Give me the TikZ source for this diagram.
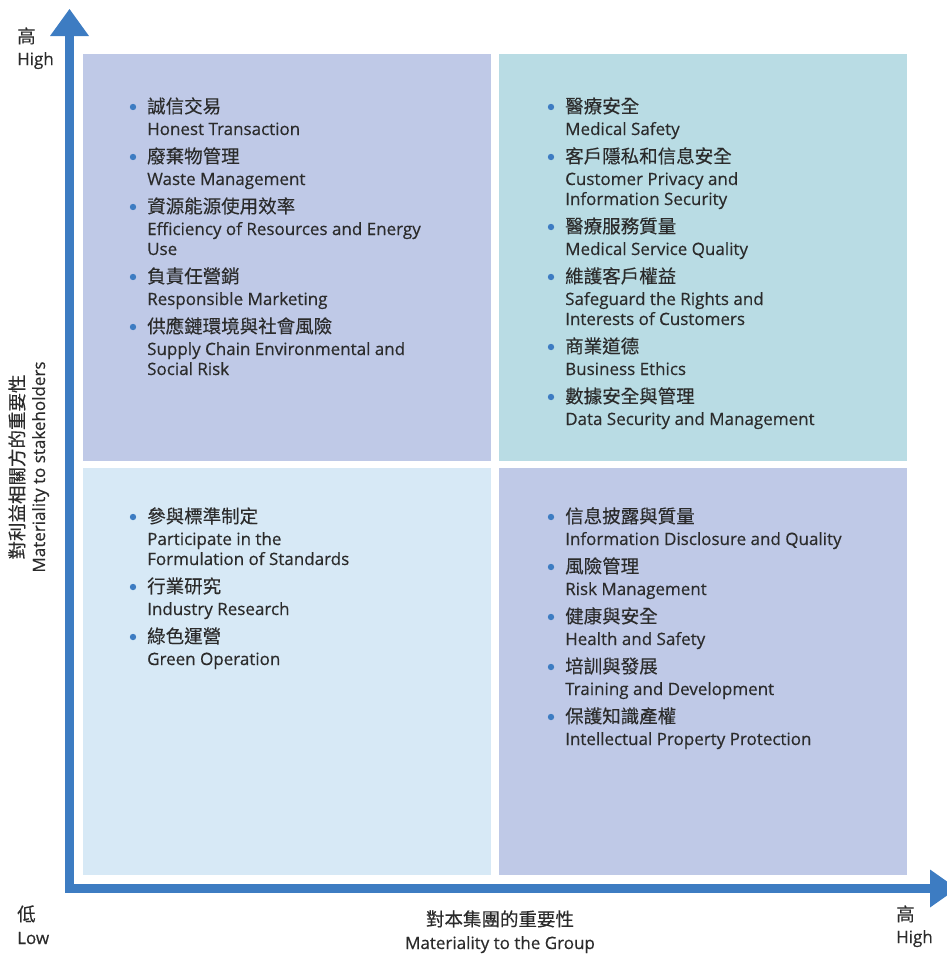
\documentclass[tikz,border=0pt]{standalone}
\usepackage{fontspec}
\setmainfont{Open Sans}[FakeBold=0.4]
\newfontfamily\cjk{Noto Sans CJK TC}[FakeBold=0.2]
\definecolor{axisc}{HTML}{3D7CC2}
\definecolor{quadA}{HTML}{BFC9E7}
\definecolor{quadB}{HTML}{B9DCE4}
\definecolor{quadC}{HTML}{D7E9F6}
\definecolor{txt}{HTML}{2B2B2B}
\tikzset{
  cn/.style={anchor=base west, inner sep=0pt, text=txt, font=\cjk\fontsize{18.5}{20}\selectfont},
  en/.style={anchor=base west, inner sep=0pt, text=txt, font=\fontsize{17}{20}\selectfont},
  dot/.style={fill=axisc},
}
\newcommand\itemA[5]{%
  \fill[dot] (#2-14,#3-6) circle (3.2);
  \node[cn] (#1c) at (#2,#3) {#4};
  \node[en] (#1e) at (#2,#3+22) {#5};
}
\newcommand\itemB[6]{%
  \itemA{#1}{#2}{#3}{#4}{#5}
  \node[en] (#1f) at (#2,#3+42) {#6};
}
\begin{document}
\begin{tikzpicture}[x=1pt,y=-1pt]
\useasboundingbox (0,0) rectangle (947,954);
\clip (0,0) rectangle (947,954);
% quadrants
\fill[quadA] (83,54) rectangle (491,461);
\fill[quadB] (499,54) rectangle (907,461);
\fill[quadC] (83,468) rectangle (491,875);
\fill[quadA] (499,468) rectangle (907,875);
% axes
\coordinate (ytop) at (69.5,36);
\coordinate (orig) at (69.5,888.5);
\coordinate (xend) at (930,888.5);
\draw[axisc, line width=9pt, line join=miter] (ytop) -- (orig) -- (xend);
\fill[axisc] (50,36) -- (89,36) -- (69.5,9) -- cycle;
\fill[axisc] (930,869.5) -- (930,907.5) -- (957,888.5) -- cycle;
% axis labels
\node[cn] (yhighc) at (17,43) {高};
\node[en] (yhighe) at (17,65) {High};
\node[cn] (lowc) at (17,921) {低};
\node[en] (lowe) at (17,944) {Low};
\node[cn] (xhighc) at (896,921) {高};
\node[en] (xhighe) at (896,943) {High};
\node[cn, anchor=base] (xlabc) at (500,926) {對本集團的重要性};
\node[en, anchor=base] (xlabe) at (500,949) {Materiality to the Group};
\node[cn, anchor=base, rotate=90] (ylabc) at (24,467) {對利益相關方的重要性};
\node[en, anchor=base, rotate=90] (ylabe) at (45,467) {Materiality to stakeholders};
% top-left
\itemA{a1}{147}{113}{誠信交易}{Honest Transaction}
\itemA{a2}{147}{163}{廢棄物管理}{Waste Management}
\itemB{a3}{147}{213}{資源能源使用效率}{Efficiency of Resources and Energy}{Use}
\itemA{a4}{147}{283}{負責任營銷}{Responsible Marketing}
\itemB{a5}{147}{333}{供應鏈環境與社會風險}{Supply Chain Environmental and}{Social Risk}
% top-right
\itemA{b1}{565}{113}{醫療安全}{Medical Safety}
\itemB{b2}{565}{163}{客戶隱私和信息安全}{Customer Privacy and}{Information Security}
\itemA{b3}{565}{233}{醫療服務質量}{Medical Service Quality}
\itemB{b4}{565}{283}{維護客戶權益}{Safeguard the Rights and}{Interests of Customers}
\itemA{b5}{565}{353}{商業道德}{Business Ethics}
\itemA{b6}{565}{403}{數據安全與管理}{Data Security and Management}
% bottom-left
\itemB{c1}{147}{523}{參與標準制定}{Participate in the}{Formulation of Standards}
\itemA{c2}{147}{593}{行業研究}{Industry Research}
\itemA{c3}{147}{643}{綠色運營}{Green Operation}
% bottom-right
\itemA{d1}{565}{523}{信息披露與質量}{Information Disclosure and Quality}
\itemA{d2}{565}{573}{風險管理}{Risk Management}
\itemA{d3}{565}{623}{健康與安全}{Health and Safety}
\itemA{d4}{565}{673}{培訓與發展}{Training and Development}
\itemA{d5}{565}{723}{保護知識產權}{Intellectual Property Protection}
\end{tikzpicture}
\end{document}
